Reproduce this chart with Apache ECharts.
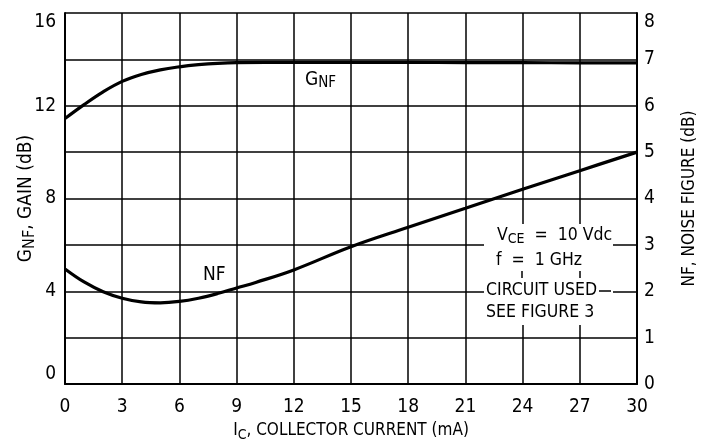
<!DOCTYPE html>
<html>
<head>
<meta charset="utf-8">
<script src="https://cdn.jsdelivr.net/npm/echarts@6/dist/echarts.min.js"></script>
<style>
  html, body { margin: 0; padding: 0; background: #fff; }
  #chart { width: 710px; height: 445px; }
</style>
</head>
<body>
<div id="chart"></div>
<script>
// collector current (mA) vs gain / noise figure
const gainX = [0, 1, 2, 3, 4, 5, 6, 7, 8, 9, 12, 15, 18, 21, 24, 27, 30];
const gainDB = [11.45, 12.05, 12.6, 13.05, 13.35, 13.55, 13.68, 13.77, 13.83, 13.86, 13.87, 13.87, 13.87, 13.86, 13.86, 13.85, 13.85];

const nfX = [0, 1, 2, 3, 4, 5, 6, 7, 8, 9, 10, 12, 15, 18, 21, 24, 27, 30];
const nfDB = [2.48, 2.2, 1.99, 1.85, 1.77, 1.75, 1.78, 1.85, 1.95, 2.07, 2.19, 2.46, 2.96, 3.38, 3.79, 4.2, 4.6, 5.0];

const xTicks = [0, 3, 6, 9, 12, 15, 18, 21, 24, 27, 30];
const gainTicks = [0, 4, 8, 12, 16];
const nfTicks = [0, 1, 2, 3, 4, 5, 6, 7, 8];

const FONT = "'Liberation Sans Narrow', 'DejaVu Sans Condensed', 'Roboto', sans-serif";
const INK = '#000';

const chart = echarts.init(document.getElementById('chart'), null, { renderer: 'canvas' });

const option = {
  backgroundColor: '#fff',
  animation: false,
  grid: { left: 65, right: 73, top: 13, bottom: 61, outerBoundsMode: 'none', containLabel: false },
  xAxis: {
    type: 'value',
    min: 0,
    max: 30,
    interval: 3,
    name: 'I{sub|C}, COLLECTOR CURRENT (mA)',
    nameLocation: 'middle',
    nameGap: 36,
    nameTextStyle: {
      fontFamily: FONT, fontSize: 17, color: INK,
      rich: { sub: { fontFamily: FONT, fontSize: 14, color: INK, padding: [8, 0, 0, 0] } }
    },
    axisLine: { lineStyle: { color: INK, width: 2 } },
    axisTick: { show: false },
    axisLabel: {
      fontFamily: FONT, fontSize: 19, color: INK, margin: 14,
      formatter: v => (xTicks.includes(v) ? String(v) : '')
    },
    splitLine: { show: true, lineStyle: { color: INK, width: 1.5 } }
  },
  yAxis: [
    {
      type: 'value',
      min: 0,
      max: 16,
      interval: 2,
      name: 'G{sub|NF}, GAIN (dB)',
      nameLocation: 'middle',
      nameRotate: 90,
      nameGap: 27,
      nameMoveOverlap: false,
      nameTextStyle: {
        fontFamily: FONT, fontSize: 19, color: INK,
        rich: { sub: { fontFamily: FONT, fontSize: 16, color: INK, padding: [7, 0, 0, 0] } }
      },
      axisLine: { show: true, lineStyle: { color: INK, width: 2 } },
      axisTick: { show: false },
      axisLabel: {
        fontFamily: FONT, fontSize: 19, color: INK, margin: 9,
        verticalAlignMinLabel: 'bottom',
        verticalAlignMaxLabel: 'top',
        formatter: v => (gainTicks.includes(v) ? String(v) : '')
      },
      splitLine: { show: true, lineStyle: { color: INK, width: 1.5 } }
    },
    {
      type: 'value',
      min: 0,
      max: 8,
      interval: 1,
      position: 'right',
      name: 'NF, NOISE FIGURE (dB)',
      nameLocation: 'middle',
      nameRotate: 90,
      nameGap: 44,
      nameTextStyle: { fontFamily: FONT, fontSize: 17, color: INK },
      axisLine: { show: true, lineStyle: { color: INK, width: 2 } },
      axisTick: { show: false },
      axisLabel: {
        fontFamily: FONT, fontSize: 19, color: INK, margin: 7,
        verticalAlignMaxLabel: 'top',
        formatter: v => (nfTicks.includes(v) ? String(v) : '')
      },
      splitLine: { show: false }
    }
  ],
  series: [
    {
      name: 'GNF',
      type: 'line',
      yAxisIndex: 0,
      smooth: 0.4,
      showSymbol: false,
      data: gainX.map((x, i) => [x, gainDB[i]]),
      lineStyle: { color: INK, width: 3.2 },
      z: 5
    },
    {
      name: 'NF',
      type: 'line',
      yAxisIndex: 1,
      smooth: 0.4,
      showSymbol: false,
      data: nfX.map((x, i) => [x, nfDB[i]]),
      lineStyle: { color: INK, width: 3.2 },
      z: 5
    }
  ],
  graphic: [
    // white patch behind the test-condition note
    { type: 'rect', left: 484, top: 224, shape: { width: 129, height: 101 }, style: { fill: '#fff' }, z: 10 },
    { type: 'line', shape: { x1: 599, y1: 291, x2: 611, y2: 291 }, style: { stroke: INK, lineWidth: 1.5 }, z: 11 },
    { type: 'line', shape: { x1: 522, y1: 271, x2: 522, y2: 278 }, style: { stroke: INK, lineWidth: 1.5 }, z: 11 },
    { type: 'line', shape: { x1: 580, y1: 271, x2: 580, y2: 278 }, style: { stroke: INK, lineWidth: 1.5 }, z: 11 },
    {
      type: 'text', left: 497, top: 226, z: 12,
      style: {
        text: 'V{sub|CE}  =  10 Vdc',
        font: '17.5px ' + FONT, fill: INK,
        rich: { sub: { fontFamily: FONT, fontSize: 14, fill: INK, padding: [8, 0, 0, 0] } }
      }
    },
    { type: 'text', left: 496, top: 251, z: 12, style: { text: 'f  =  1 GHz', font: '17.5px ' + FONT, fill: INK } },
    { type: 'text', left: 486, top: 281, z: 12, style: { text: 'CIRCUIT USED', font: '17.5px ' + FONT, fill: INK } },
    { type: 'text', left: 486, top: 303, z: 12, style: { text: 'SEE FIGURE 3', font: '17.5px ' + FONT, fill: INK } },
    // curve labels
    {
      type: 'text', left: 305, top: 71, z: 12,
      style: {
        text: 'G{sub|NF}',
        font: '19px ' + FONT, fill: INK,
        rich: { sub: { fontFamily: FONT, fontSize: 15, fill: INK, padding: [6, 0, 0, 0] } }
      }
    },
    { type: 'text', left: 203, top: 266, z: 12, style: { text: 'NF', font: '19px ' + FONT, fill: INK } }
  ]
};

chart.setOption(option);
</script>
</body>
</html>
